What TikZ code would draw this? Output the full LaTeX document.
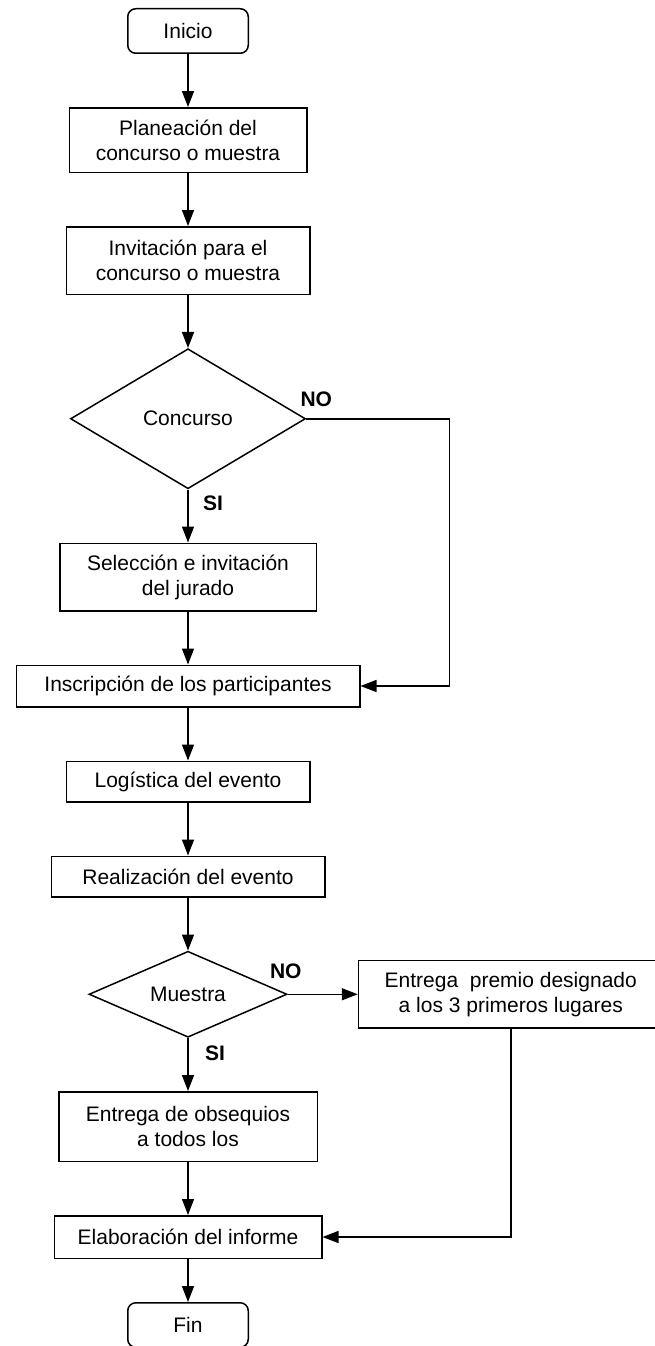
\documentclass[tikz,border=0pt]{standalone}
\usepackage{fontspec}
\setmainfont{Liberation Sans}
\usepackage{tikz}
\usetikzlibrary{shapes.geometric, arrows.meta, positioning}

\begin{document}
\begin{tikzpicture}[
    x=1pt, y=-1pt,
    node distance=53pt,
    box/.style={rectangle, draw, line width=1.5pt, inner sep=0pt, align=center,
                font=\fontsize{21}{25}\selectfont},
    term/.style={box, rounded corners=8pt, minimum width=120.5pt, minimum height=44.5pt},
    decision/.style={diamond, draw, line width=1.5pt, inner sep=0pt,
                font=\fontsize{21}{25}\selectfont},
    lbl/.style={font=\fontsize{21}{25}\selectfont\bfseries, inner sep=0pt},
    arrow/.style={-{Triangle[length=16pt, width=12pt]}, line width=1.5pt}
]
    \useasboundingbox (0,0) rectangle (654,1346);

    % Boxes
    \node[term] (inicio) at (188,31) {Inicio};
    \node[box, minimum width=237.5pt, minimum height=64.5pt, below=of inicio] (planeacion) {Planeación del\\concurso o muestra};
    \node[box, minimum width=243.5pt, minimum height=67.5pt, below=of planeacion] (invitacion) {Invitación para el\\concurso o muestra};
    \node[decision, aspect=1.67, minimum width=235pt, minimum height=140pt, below=of invitacion] (concurso) {Concurso};
    \node[box, minimum width=256.5pt, minimum height=67.5pt, below=of concurso] (seleccion) {Selección e invitación\\del jurado};
    \node[box, minimum width=343.5pt, minimum height=41.5pt, below=of seleccion] (inscripcion) {Inscripción de los participantes};
    \node[box, minimum width=243.5pt, minimum height=40.5pt, below=of inscripcion] (logistica) {Logística del evento};
    \node[box, minimum width=273.5pt, minimum height=40.5pt, below=of logistica] (realizacion) {Realización del evento};
    \node[decision, aspect=2.27, minimum width=198pt, minimum height=86pt, below=of realizacion] (muestra) {Muestra};
    \node[box, minimum width=304.5pt, minimum height=67.5pt, right=70pt of muestra] (premio) {Entrega\ \ premio designado\\a los 3 primeros lugares};
    \node[box, minimum width=258.5pt, minimum height=69.5pt, below=of muestra] (obsequios) {Entrega de obsequios\\a todos los};
    \node[box, minimum width=267.5pt, minimum height=42.5pt, below=of obsequios] (informe) {Elaboración del informe};
    \node[term, below=43pt of informe] (fin) {Fin};

    % Arrows
    \draw[arrow] (inicio) -- (planeacion);
    \draw[arrow] (planeacion) -- (invitacion);
    \draw[arrow] (invitacion) -- (concurso);
    \draw[arrow] (concurso) -- (seleccion);
    \draw[arrow] (concurso.east) -- ++(143pt,0) |- (inscripcion.east);
    \draw[arrow] (seleccion) -- (inscripcion);
    \draw[arrow] (inscripcion) -- (logistica);
    \draw[arrow] (logistica) -- (realizacion);
    \draw[arrow] (realizacion) -- (muestra);
    \draw[arrow] (muestra) -- (premio);
    \draw[arrow] (muestra) -- (obsequios);
    \draw[arrow] (premio.south) |- (informe.east);
    \draw[arrow] (obsequios) -- (informe);
    \draw[arrow] (informe) -- (fin);

    % Labels
    \node[lbl, above=12pt of concurso.east, xshift=10pt] (no1) {NO};
    \node[lbl, below right=6pt and 15pt of concurso.south] (si1) {SI};
    \node[lbl, above=15pt of muestra.east, xshift=-2pt] (no2) {NO};
    \node[lbl, below right=8pt and 17pt of muestra.south] (si2) {SI};
\end{tikzpicture}
\end{document}
